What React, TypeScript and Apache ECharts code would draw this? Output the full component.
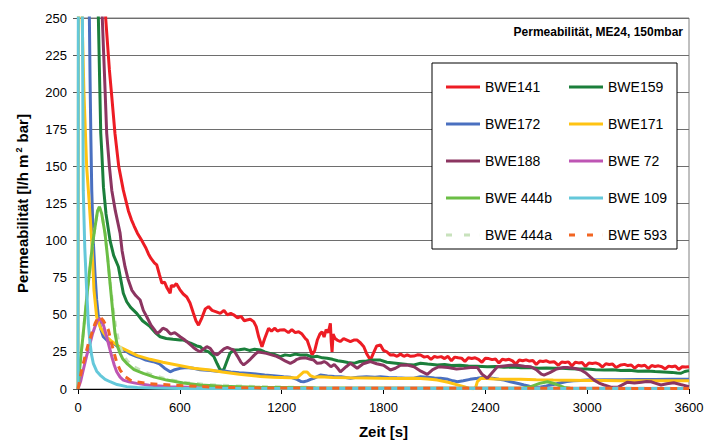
import React, { useEffect, useRef } from "react";
import * as echarts from "echarts";

// ---- Data (time [s], permeability [l/h m² bar]) ----
const xTicks = [0, 600, 1200, 1800, 2400, 3000, 3600];
const yTicks = [0, 25, 50, 75, 100, 125, 150, 175, 200, 225, 250];

const names = ["BWE141", "BWE159", "BWE172", "BWE171", "BWE188", "BWE 72", "BWE 444b", "BWE 109", "BWE 444a", "BWE 593"];

const t141 = [60, 120, 163, 185, 199, 218, 240, 267, 280, 297, 315, 330, 350, 376, 400, 415, 430, 450, 464, 480, 494, 510, 525, 543, 550, 562, 580, 600, 620, 641, 660, 680, 695, 710, 730, 750, 769, 790, 815, 838, 860, 880, 900, 917, 940, 960, 980, 995, 1015, 1035, 1050, 1065, 1084, 1100, 1123, 1140, 1160, 1175, 1192, 1215, 1240, 1260, 1280, 1300, 1320, 1340, 1350, 1365, 1379, 1395, 1410, 1425, 1438, 1450, 1462, 1475, 1487, 1492, 1497, 1503, 1515, 1527, 1545, 1565, 1585, 1605, 1625, 1645, 1665, 1684, 1700, 1715, 1723, 1740, 1760, 1782, 1800, 1820, 1841, 1860, 1880, 1900, 1920, 1940, 1960, 1979, 2000, 2018, 2040, 2060, 2080, 2100, 2117, 2140, 2160, 2180, 2200, 2220, 2240, 2260, 2280, 2300, 2320, 2340, 2360, 2380, 2400, 2420, 2440, 2460, 2480, 2500, 2520, 2540, 2560, 2580, 2600, 2620, 2640, 2660, 2680, 2700, 2720, 2740, 2760, 2780, 2805, 2830, 2850, 2870, 2890, 2910, 2930, 2950, 2970, 2990, 3010, 3030, 3050, 3070, 3090, 3110, 3130, 3150, 3170, 3199, 3220, 3240, 3260, 3280, 3300, 3320, 3340, 3360, 3380, 3400, 3420, 3440, 3460, 3480, 3500, 3520, 3540, 3560, 3580, 3600];
const v141 = [1200, 500, 250, 215, 197, 172, 150, 134, 128, 120, 114, 110, 105, 100, 95, 91, 88, 85, 83.6, 77, 71.4, 72, 68, 64.5, 70, 69, 71, 67, 64, 62, 58, 51, 46, 43, 48, 54, 55.5, 53, 52, 51, 53, 50, 51, 50, 48, 49, 46, 46.5, 47, 45.4, 42, 35, 28.5, 34, 40.9, 39, 41, 39, 39.8, 40, 38, 40, 38, 38.6, 37, 34, 33, 28, 22.9, 26, 33, 37, 38.6, 35, 40, 38, 44.3, 32, 25, 37, 34, 33, 32, 34, 33, 32, 33, 33, 31, 28.5, 24, 21, 19.5, 24, 29, 29.6, 26, 25, 22.9, 23, 22, 23.5, 22, 23, 22, 22.2, 23, 22.9, 21.5, 22, 20, 22, 21.3, 21.8, 20.5, 22, 19, 21.5, 21, 20.8, 18.5, 21, 20.5, 21, 20, 18, 20.7, 20.5, 19.8, 20.2, 17.5, 20, 19.5, 20, 19, 16.8, 19.5, 19, 19.6, 18.8, 19.2, 16.5, 18.8, 18.5, 19, 18, 18.4, 16, 18.2, 17.8, 18.3, 15.5, 18, 17.6, 17.8, 15.2, 17.5, 17.2, 17.6, 16.8, 14.8, 17, 16.5, 16.8, 14.5, 16.2, 16.6, 15.8, 16.2, 14, 16, 15.5, 16, 13.8, 15.8, 15.2, 15.6, 15, 13.5, 15.4, 15, 15.5, 13.2, 15, 14.8, 15];

const t159 = [50, 110, 120, 128, 134, 140, 150, 165, 189, 210, 238, 255, 267, 287, 310, 346, 380, 425, 455, 484, 520, 560, 602, 622, 660, 700, 720, 740, 770, 800, 820, 838, 858, 875, 895, 917, 950, 980, 1010, 1040, 1074, 1100, 1130, 1160, 1192, 1220, 1250, 1280, 1310, 1350, 1380, 1410, 1440, 1468, 1500, 1530, 1560, 1590, 1625, 1660, 1700, 1740, 1782, 1820, 1860, 1900, 1940, 1979, 2018, 2060, 2117, 2160, 2200, 2250, 2300, 2350, 2412, 2460, 2510, 2560, 2610, 2660, 2710, 2760, 2805, 2850, 2900, 2950, 3000, 3050, 3100, 3150, 3199, 3250, 3300, 3350, 3400, 3450, 3500, 3530, 3553, 3575, 3600];
const v159 = [1500, 300, 250, 205, 172.5, 160, 136, 118, 100, 90, 82.4, 72, 64.5, 58.8, 55, 51, 46, 42, 38, 35.2, 34, 33.5, 33, 33, 31, 29, 28.5, 26.3, 25, 22, 17, 12.8, 12.8, 18, 24, 26.3, 26.5, 27, 26, 26.8, 26.3, 25, 24, 23.2, 21.8, 23, 22.5, 23.5, 22.9, 22.9, 21.5, 22, 21, 20.7, 20, 19, 18.5, 17.8, 17.3, 18.5, 18.8, 19.5, 19.5, 18, 17.5, 17, 16.5, 16.2, 17.3, 16.8, 16.2, 16.5, 15.8, 16, 15.5, 15.4, 15, 15.2, 14.6, 14.8, 14.3, 14.5, 14, 14.2, 13.9, 14, 13.6, 13.4, 13.5, 13, 12.8, 13, 12.4, 12.6, 12, 12.2, 11.8, 11.5, 11.2, 10.8, 10.6, 11.8, 12.4];

const t172 = [20, 55, 67, 71, 76, 81, 90, 100, 110, 120, 135, 149, 170, 190, 208, 230, 250, 267, 290, 310, 346, 370, 400, 444, 480, 510, 543, 570, 602, 640, 680, 720, 740, 780, 820, 860, 900, 950, 1015, 1060, 1100, 1150, 1212, 1250, 1290, 1315, 1330, 1350, 1370, 1389, 1428, 1470, 1510, 1550, 1605, 1650, 1700, 1750, 1782, 1830, 1880, 1930, 1979, 2018, 2060, 2100, 2136, 2180, 2210, 2235, 2270, 2310, 2353, 2392, 2440, 2480, 2510, 2560, 2600, 2628, 2660, 2687, 2720, 2760, 2800, 2840, 2880, 2920, 2960, 3002, 3100, 3200, 3300, 3400, 3500, 3600];
const v172 = [1500, 400, 250, 210, 168, 134, 100, 78, 60, 48.7, 40, 35.2, 33, 31, 30.8, 29, 27.5, 26.3, 25, 23.5, 21.8, 21, 19.5, 18.4, 17, 14, 11.6, 13, 13.9, 14.5, 14, 13, 12.8, 12.5, 12, 12.2, 11.5, 11, 10.5, 10, 9.5, 9, 8.3, 8, 6.5, 5, 4.9, 5.5, 6.5, 7.2, 9.4, 8.8, 8.5, 8.3, 7.2, 8, 8.3, 8, 8.3, 7.8, 7.5, 7.3, 7.2, 8.3, 8, 7.4, 7.2, 6.5, 5.5, 4.9, 5.5, 6.5, 7.2, 7.9, 7.2, 6.5, 6, 4.5, 3.5, 2.7, 1.8, 1.1, 1.2, 2, 3, 4, 5, 5.5, 5.8, 6, 6.2, 6.3, 6.4, 6.4, 6.5, 6.5];

const t171 = [0, 8, 20, 24, 35, 51, 61, 71, 81, 94, 110, 130, 150, 169, 200, 250, 287, 350, 425, 500, 582, 680, 779, 850, 950, 1074, 1150, 1251, 1290, 1310, 1330, 1350, 1370, 1390, 1428, 1500, 1600, 1700, 1782, 1900, 1998, 2060, 2117, 2180, 2235, 2274, 2300, 2330, 2343, 2353, 2372, 2392, 2450, 2520, 2608, 2700, 2800, 2900, 3002, 3100, 3200, 3300, 3400, 3500, 3600];
const v171 = [0, 700, 290, 250, 200, 150, 134, 117, 100, 66.7, 48.7, 42, 38, 35.2, 32, 28, 26, 22.5, 20, 18, 16.2, 14, 12.8, 11.5, 10, 8.5, 8, 7.5, 7.5, 9.5, 11.5, 11.5, 9, 8, 8.3, 7.8, 7.5, 7.4, 7.2, 7.1, 7.2, 6.8, 6, 4.5, 2.8, 1.6, 0.5, 0.2, 1, 5, 7, 7.2, 6.8, 6.6, 6.5, 6.2, 6, 5.9, 5.8, 5.7, 5.6, 5.6, 5.5, 5.5, 5.5];

const t188 = [50, 120, 143, 155, 169, 185, 199, 220, 248, 260, 277, 295, 317, 340, 366, 385, 405, 430, 450, 464, 480, 500, 523, 545, 570, 602, 630, 660, 680, 700, 720, 740, 759, 779, 800, 820, 840, 860, 880, 900, 917, 940, 960, 976, 995, 1015, 1040, 1060, 1084, 1110, 1140, 1170, 1192, 1220, 1251, 1271, 1290, 1310, 1340, 1370, 1389, 1409, 1430, 1450, 1468, 1490, 1510, 1530, 1546, 1580, 1605, 1645, 1680, 1723, 1760, 1800, 1841, 1870, 1900, 1940, 1980, 2020, 2058, 2090, 2126, 2180, 2230, 2274, 2313, 2353, 2380, 2412, 2440, 2471, 2510, 2550, 2589, 2630, 2668, 2700, 2730, 2746, 2780, 2820, 2860, 2884, 2930, 2963, 2990, 3020, 3041, 3070, 3100, 3140, 3179, 3210, 3238, 3278, 3320, 3350, 3376, 3400, 3435, 3470, 3510, 3550, 3600];
const v188 = [1500, 350, 250, 215, 172.5, 150, 134, 120, 105, 93, 82.4, 74, 66.7, 63, 60, 53, 48.7, 43, 40, 37.5, 38.5, 41, 39.8, 37, 38, 35.2, 33, 30, 28, 26.3, 25.1, 27, 28.5, 27.4, 24, 23, 25, 27, 28, 27, 26.3, 22, 18, 16.2, 18, 20, 23, 25, 24.5, 24, 23, 22, 20.7, 19, 17.3, 18.4, 20, 20.7, 21, 20, 19.5, 17.3, 17.5, 18.5, 17.3, 15, 16.5, 14, 11.6, 15, 17.3, 14, 17, 18.5, 17, 16, 12.8, 14, 16, 16.2, 15, 12, 9.8, 13, 15, 14.5, 13.5, 13.9, 14.5, 14.5, 10, 7.2, 11, 15, 15.5, 16, 16, 15.3, 15, 13, 10, 9.4, 11, 13.5, 14.5, 14.5, 13.8, 12.8, 11, 8, 6, 4, 2.7, 1.2, 1.2, 3, 4.6, 4, 4.6, 5, 4.9, 4, 2.7, 3.5, 4.2, 3, 1.6];

const t72 = [0, 15, 31, 50, 71, 85, 100, 115, 130, 150, 169, 185, 199, 214, 228, 248, 267, 300, 346, 420, 543, 700, 1000, 3600];
const v72 = [0, 5, 12.8, 22, 30.8, 37, 42, 46, 47.6, 43, 35.2, 28, 21.8, 16, 11.6, 8, 6, 4.8, 3.8, 2.5, 1.6, 1, 0.6, 0.4];

const t444b = [0, 15, 31, 50, 71, 85, 100, 115, 126, 140, 159, 175, 189, 205, 218, 232, 248, 265, 287, 330, 385, 450, 523, 620, 720, 850, 1074, 1400, 2000, 2620, 2668, 2720, 2766, 2810, 2864, 2900, 3600];
const v444b = [0, 20, 37.5, 60, 82.4, 97, 109, 120, 122.8, 118, 105, 88, 71, 52, 37.5, 29, 24, 20, 17.3, 13, 10.5, 8, 6, 4, 2.7, 1.8, 1.1, 0.7, 0.5, 0.5, 1.6, 3.8, 4.9, 3.5, 1.1, 0.5, 0.4];

const t109 = [0, 6, 20, 31, 40, 51, 61, 71, 80, 90, 110, 130, 160, 189, 230, 287, 350, 444, 600, 1000, 3600];
const v109 = [0, 800, 400, 134, 95, 66.7, 44.3, 30.8, 23, 17.3, 12, 9.4, 6.5, 4.9, 3, 1.6, 1, 0.6, 0.4, 0.3, 0.3];

const t444a = [0, 15, 31, 50, 71, 85, 100, 115, 126, 140, 159, 175, 189, 205, 222, 240, 262, 290, 330, 380, 440, 520, 620, 760, 950, 1250, 2000, 3600];
const v444a = [0, 20, 37.5, 60, 82.4, 97, 109, 120, 122.8, 118, 105, 88, 72, 56, 42, 32, 24, 19, 15, 12, 9.5, 6.8, 4.5, 3, 2, 1.2, 0.6, 0.5];

const t593 = [0, 20, 41, 60, 81, 100, 115, 130, 150, 179, 195, 208, 228, 248, 275, 307, 350, 405, 470, 543, 650, 800, 1000, 1500, 3600];
const v593 = [0, 12, 21.8, 30, 37.5, 44, 47.5, 48.7, 46, 39.8, 32, 26.3, 18, 12.8, 8.5, 6, 4.8, 3.8, 3.2, 2.7, 2, 1.3, 0.8, 0.5, 0.4];

const seriesTimes = [t141, t159, t172, t171, t188, t72, t444b, t109, t444a, t593];
const seriesValues = [v141, v159, v172, v171, v188, v72, v444b, v109, v444a, v593];
const colors = ["#ED1C24", "#1B7F3B", "#4A70C0", "#FFC312", "#8C3561", "#BE55B4", "#6BBE45", "#64C8DA", "#C8E2BC", "#F26522"];
const dashes: (number[] | null)[] = [null, null, null, null, null, null, null, null, [6, 7], [7, 6]];
const zOrder = [2, 3, 4, 5, 6, 7, 9, 10, 8, 11];

const legendCol1 = ["BWE141", "BWE172", "BWE188", "BWE 444b", "BWE 444a"];
const legendCol2 = ["BWE159", "BWE171", "BWE 72", "BWE 109", "BWE 593"];

const FONT = "'Liberation Sans', Arial, Helvetica, sans-serif";
const SOLID_ICON = "path://M0,0h34v3h-34z";
const DASH_ICON = "path://M0,0h6v3h-6z M18,0h6v3h-6z M33.9,0h0.1v3h-0.1z";

export default function App() {
  const ref = useRef<HTMLDivElement>(null);
  useEffect(() => {
    if (!ref.current) return;
    const chart = echarts.init(ref.current, null, { renderer: "svg" });
    const series = names.map((name, i) => ({
      name,
      type: "line",
      data: seriesTimes[i].map((t, k) => [t, seriesValues[i][k]]),
      symbol: "none",
      showSymbol: false,
      clip: true,
      lineStyle: {
        color: colors[i],
        width: 3,
        type: dashes[i] ? dashes[i] : "solid",
        cap: "butt",
      },
      itemStyle: { color: colors[i] },
      emphasis: { disabled: true },
      z: zOrder[i],
    }));
    const legendItem = (n: string) => {
      const idx = names.indexOf(n);
      return {
        name: n,
        icon: dashes[idx] ? DASH_ICON : SOLID_ICON,
        itemStyle: { color: colors[idx], borderWidth: 0 },
      };
    };
    const legendCommon = {
      orient: "vertical",
      itemWidth: 34,
      itemHeight: 3,
      itemGap: 21,
      textStyle: { fontFamily: FONT, fontSize: 14, color: "#000", lineHeight: 16 },
      selectedMode: false,
      z: 20,
    };
    chart.setOption({
      animation: false,
      backgroundColor: "#fff",
      textStyle: { fontFamily: FONT },
      grid: {
        left: 78,
        right: 17,
        top: 18,
        bottom: 51,
        outerBoundsMode: "none",
        containLabel: false,
        show: true,
        borderColor: "#808080",
        borderWidth: 1,
        backgroundColor: "transparent",
      },
      xAxis: {
        type: "value",
        min: xTicks[0],
        max: xTicks[xTicks.length - 1],
        interval: 600,
        name: "Zeit [s]",
        nameLocation: "middle",
        nameGap: 35,
        nameTextStyle: { fontFamily: FONT, fontSize: 15, fontWeight: "bold", color: "#000" },
        axisLine: { show: true, onZero: false, lineStyle: { color: "#000", width: 1 } },
        axisTick: { show: true, inside: false, length: 5, lineStyle: { color: "#000" } },
        axisLabel: { fontFamily: FONT, fontSize: 13, color: "#000", margin: 12, formatter: (v: number) => String(v) },
        splitLine: { show: false },
      },
      yAxis: {
        type: "value",
        min: yTicks[0],
        max: yTicks[yTicks.length - 1],
        interval: 25,
        name: "{a|Permeabilität [l/h m}{s|2}{a| bar]}",
        nameLocation: "middle",
        nameGap: 48,
        nameRotate: 90,
        nameTextStyle: {
          fontFamily: FONT,
          fontSize: 15,
          fontWeight: "bold",
          color: "#000",
          rich: {
            a: { fontFamily: FONT, fontSize: 15, fontWeight: "bold", color: "#000" },
            s: { fontFamily: FONT, fontSize: 9, fontWeight: "bold", color: "#000", verticalAlign: "top", padding: [0, 1, 7, 2] },
          },
        },
        axisLine: { show: true, onZero: false, lineStyle: { color: "#555", width: 1 } },
        axisTick: { show: true, inside: false, length: 5, lineStyle: { color: "#555" } },
        axisLabel: { fontFamily: FONT, fontSize: 13, color: "#000", margin: 11, formatter: (v: number) => String(v) },
        splitLine: { show: true, lineStyle: { color: "#6e6e6e", width: 1 } },
      },
      legend: [
        { ...legendCommon, left: 441, top: 74, data: legendCol1.map(legendItem) },
        { ...legendCommon, left: 564, top: 74, data: legendCol2.map(legendItem) },
      ],
      graphic: [
        {
          type: "rect",
          shape: { x: 432, y: 63, width: 245, height: 186 },
          style: { fill: "#fff", stroke: "#000", lineWidth: 1 },
          z: 10,
          silent: true,
        },
        {
          type: "text",
          right: 23,
          top: 26,
          style: {
            text: "Permeabilität, ME24, 150mbar",
            font: "bold 12px " + FONT,
            fill: "#000",
          },
          z: 10,
          silent: true,
        },
      ],
      series,
    });
    return () => chart.dispose();
  }, []);
  return (
    <div
      ref={ref}
      style={{ position: "fixed", left: 0, top: 0, width: 706, height: 440 }}
    />
  );
}
